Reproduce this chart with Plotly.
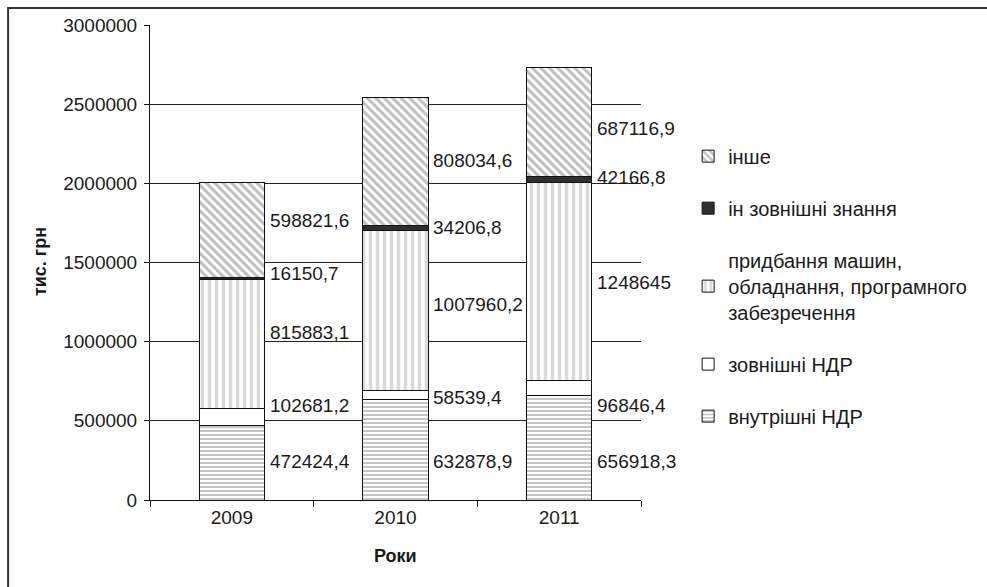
import plotly.graph_objects as go

# Years on the category axis
years = ["2009", "2010", "2011"]

# Innovation spending by category, thousand UAH (stack order bottom -> top)
internal_rnd = [472424.4, 632878.9, 656918.3]
external_rnd = [102681.2, 58539.4, 96846.4]
machinery = [815883.1, 1007960.2, 1248645.0]
external_knowledge = [16150.7, 34206.8, 42166.8]
other = [598821.6, 808034.6, 687116.9]

series_names = [
    "внутрішні НДР",
    "зовнішні НДР",
    "придбання машин,<br>обладнання, програмного<br>забезречення",
    "ін зовнішні знання",
    "інше",
]

y_ticks = [0, 500000, 1000000, 1500000, 2000000, 2500000, 3000000]

# Heights (in axis units) where each value label sits, per series and year
label_heights = [
    [246000, 246000, 246000],
    [600000, 650000, 600000],
    [1055000, 1232000, 1371000],
    [1430000, 1718000, 2040000],
    [1768000, 2147000, 2349000],
]

FONT = "Liberation Sans, Arial, sans-serif"
TEXT = "#1a1a1a"

series_values = [internal_rnd, external_rnd, machinery, external_knowledge, other]
patterns = [
    dict(shape="-", fgcolor="#8c8c8c", bgcolor="white", size=4, solidity=0.5),
    dict(shape="", bgcolor="white"),
    dict(shape="|", fgcolor="#b4b4b4", bgcolor="white", size=7, solidity=0.5),
    dict(shape="", bgcolor="#2e2e2e"),
    dict(shape="\\", fgcolor="#808080", bgcolor="white", size=6, solidity=0.5),
]
fills = ["white", "white", "white", "#2e2e2e", "white"]

fig = go.Figure()
n = len(series_names)
for k, (name, vals, pat, fill) in enumerate(zip(series_names, series_values, patterns, fills)):
    fig.add_trace(go.Bar(
        x=years, y=vals, name=name, legendgroup=name, legendrank=100 * (n - k),
        marker=dict(color=fill, pattern=pat, line=dict(color="#111", width=1)),
    ))


def fmt(v):
    if float(v).is_integer():
        return f"{int(v)}"
    return f"{v:.1f}".replace(".", ",")


annotations = []
for vals, heights in zip(series_values, label_heights):
    for i, (v, h) in enumerate(zip(vals, heights)):
        annotations.append(dict(
            x=i + 0.2, y=h, xref="x", yref="y", text=fmt(v), showarrow=False,
            xanchor="left", yanchor="middle", xshift=3,
            font=dict(family=FONT, size=19, color=TEXT),
        ))

# Axis titles
annotations.append(dict(
    x=-0.224, y=0.501, xref="paper", yref="paper", text="<b>тис. грн</b>",
    textangle=-90, showarrow=False, xanchor="center", yanchor="middle",
    font=dict(family=FONT, size=18, color=TEXT),
))
annotations.append(dict(
    x=0.5, y=-0.118, xref="paper", yref="paper", text="<b>Роки</b>",
    showarrow=False, xanchor="center", yanchor="middle",
    font=dict(family=FONT, size=18, color=TEXT),
))

fig.update_layout(
    width=987, height=587,
    margin=dict(l=150, r=346, t=25, b=87),
    paper_bgcolor="white", plot_bgcolor="white",
    barmode="stack", bargap=0.6,
    font=dict(family=FONT, size=19, color=TEXT),
    showlegend=True,
    legend=dict(
        x=1.096, y=0.765, xanchor="left", yanchor="top",
        traceorder="grouped", tracegroupgap=23,
        font=dict(family=FONT, size=20, color=TEXT),
        itemclick=False, itemdoubleclick=False,
    ),
    annotations=annotations,
    shapes=[dict(
        type="rect", xref="paper", yref="paper",
        x0=-0.289, x1=1.8, y0=-0.3, y1=1.0358,
        line=dict(color="#333", width=2), fillcolor="rgba(0,0,0,0)", layer="below",
    )],
)

fig.update_xaxes(
    type="category", range=[-0.5, 2.5],
    showline=True, linecolor="#111", linewidth=1,
    ticks="outside", tickson="boundaries", ticklen=6, tickcolor="#111",
    showgrid=False, tickfont=dict(family=FONT, size=19, color=TEXT),
)
fig.update_yaxes(
    range=[0, 3000000], tickvals=y_ticks, ticktext=[str(t) for t in y_ticks],
    showline=True, linecolor="#111", linewidth=1,
    ticks="outside", ticklen=5, tickcolor="#111", ticklabelstandoff=3,
    showgrid=True, gridcolor="#222", gridwidth=1, zeroline=False,
    tickfont=dict(family=FONT, size=19, color=TEXT),
)

fig.write_html("out.html")
